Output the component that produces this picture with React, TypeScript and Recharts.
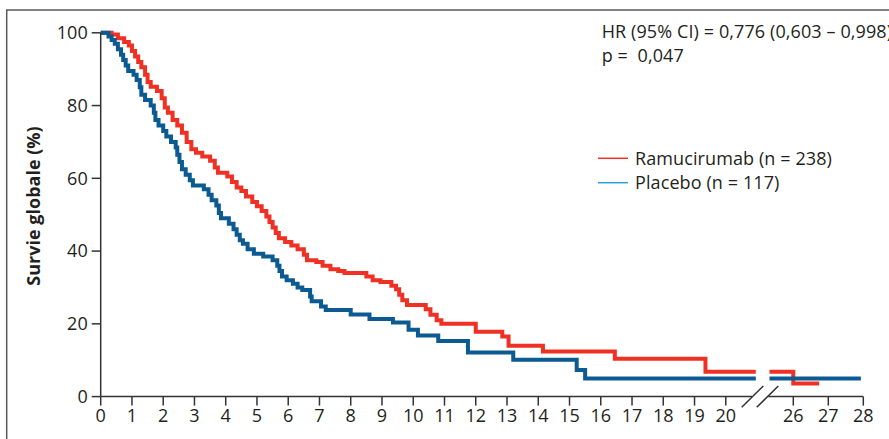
import React from 'react';
import { LineChart, Line, XAxis, YAxis, ReferenceLine } from 'recharts';

// survival steps, [months, %] : value holds from that month onward
const ramucirumabBefore: [number, number][] = [
  [0, 100], [0.35, 99.5], [0.55, 98.5], [0.75, 97.5], [0.9, 96.5], [1.0, 95],
  [1.1, 93.5], [1.2, 92], [1.3, 90.5], [1.42, 88.5], [1.5, 86.5], [1.6, 85.2],
  [1.8, 84], [1.95, 82], [2.05, 79.5], [2.15, 78], [2.3, 76], [2.45, 74.5],
  [2.6, 72.5], [2.75, 70], [2.9, 68], [3.05, 67], [3.25, 66], [3.5, 64.8],
  [3.65, 63], [3.75, 61.5], [4.05, 60.5], [4.2, 59], [4.35, 57.5], [4.5, 56.5],
  [4.65, 55], [4.85, 53.5], [5.0, 52.3], [5.15, 51], [5.3, 49.5], [5.4, 48],
  [5.5, 46.5], [5.6, 45], [5.7, 43.5], [5.9, 42.5], [6.1, 41.5], [6.3, 40.5],
  [6.5, 39], [6.6, 37.5], [6.9, 37], [7.1, 36], [7.35, 35], [7.6, 34.5],
  [7.8, 34], [8.5, 33], [8.7, 32], [8.95, 31.5], [9.3, 30.5], [9.45, 29.5],
  [9.55, 28], [9.65, 26.5], [9.8, 25.2], [10.4, 24], [10.55, 22.5], [10.75, 21],
  [10.9, 20], [12.0, 17.8], [12.85, 16.5], [13.05, 14], [14.15, 12.4],
  [16.45, 10.4], [19.35, 6.8], [20.96, 6.8],
];
const ramucirumabAfter: [number, number][] = [
  [25.32, 6.8], [26.0, 3.6], [26.74, 3.6],
];

const placeboBefore: [number, number][] = [
  [0, 100], [0.25, 99], [0.35, 98], [0.45, 97], [0.55, 95.5], [0.65, 94],
  [0.72, 92.5], [0.8, 91], [0.88, 89.5], [1.05, 88.5], [1.15, 87], [1.25, 85],
  [1.3, 83], [1.42, 81.5], [1.6, 80], [1.7, 78], [1.75, 76], [1.85, 74.5],
  [2.0, 73], [2.1, 71.5], [2.25, 70], [2.4, 68.5], [2.45, 66.5], [2.52, 64.5],
  [2.6, 62.5], [2.72, 61], [2.85, 59.5], [2.95, 58], [3.3, 57], [3.45, 55.5],
  [3.55, 54], [3.7, 52.5], [3.78, 50.5], [3.85, 49], [4.1, 47.5], [4.25, 46],
  [4.35, 44.5], [4.45, 43], [4.55, 42], [4.7, 40.5], [4.9, 39.3], [5.2, 38.5],
  [5.5, 37.5], [5.65, 36], [5.72, 34.5], [5.8, 33], [5.95, 32], [6.15, 31],
  [6.3, 30], [6.45, 29.3], [6.7, 27.5], [6.75, 26.2], [7.05, 24.8], [7.2, 23.8],
  [8.0, 22.6], [8.6, 21.3], [9.35, 20.4], [9.85, 18.4], [10.15, 16.8],
  [10.8, 15.3], [11.75, 12.1], [13.2, 10.1], [15.23, 7.3], [15.5, 5.0],
  [20.96, 5.0],
];
const placeboAfter: [number, number][] = [
  [25.32, 5.0], [27.93, 5.0],
];

const xTicks = [0, 1, 2, 3, 4, 5, 6, 7, 8, 9, 10, 11, 12, 13, 14, 15, 16, 17, 18, 19, 20, 26, 27, 28];
const yTicks = [0, 20, 40, 60, 80, 100];

const legendItems = [
  { label: 'Ramucirumab (n = 238)', color: '#ee3124' },
  { label: 'Placebo (n = 117)', color: '#2b9fd9' },
];

const RED = '#ee3124';
const BLUE = '#0b5a91';
const INK = '#231f20';

// broken axis: months up to 21 are drawn as is, from 26 on they are squeezed in after the gap
const BREAK_AT = 21;
const RESUME_AT = 26;
const RESUME_POS = 22.16;
const RESUME_SCALE = 1.12;

function toAxis(t: number): number {
  return t <= BREAK_AT ? t : RESUME_POS + (t - RESUME_AT) * RESUME_SCALE;
}

function toRows(steps: [number, number][]) {
  return steps.map(([t, v]) => ({ x: toAxis(t), v }));
}

function tickLabel(d: number): string {
  const t = xTicks.find((m) => Math.abs(toAxis(m) - d) < 1e-6);
  return t === undefined ? '' : String(t);
}

function YLabel() {
  return (
    <text
      x={33}
      y={206}
      transform="rotate(-90 33 206)"
      textAnchor="middle"
      dominantBaseline="central"
      fontSize={18}
      fontWeight={700}
      fill={INK}
    >
      Survie globale (%)
    </text>
  );
}

export default function App() {
  const xMax = toAxis(28);
  const axisStyle = { stroke: '#333', strokeWidth: 1.5 };
  const textStyle = { fontSize: 18, fill: INK, letterSpacing: 0.1 };
  return (
    <div
      style={{
        position: 'absolute',
        left: 0,
        top: 0,
        width: 889,
        height: 439,
        background: '#fff',
        fontFamily: '"Open Sans", "Noto Sans", sans-serif',
        overflow: 'hidden',
      }}
    >
      <LineChart
        width={889}
        height={439}
        margin={{ top: 32.8, right: 25.7, bottom: 12.4, left: 0 }}
      >
        <XAxis
          dataKey="x"
          type="number"
          domain={[0, xMax]}
          ticks={xTicks.map(toAxis)}
          tickFormatter={tickLabel}
          interval={0}
          axisLine={false}
          tickLine={axisStyle}
          tickSize={9}
          tickMargin={4}
          height={30}
          tick={{ fontSize: 18, fill: INK }}
        />
        <YAxis
          type="number"
          domain={[0, 100]}
          ticks={yTicks}
          width={100.7}
          axisLine={axisStyle}
          tickLine={axisStyle}
          tickSize={9}
          tickMargin={4}
          tick={{ fontSize: 18, fill: INK }}
          label={<YLabel />}
        />
        <ReferenceLine segment={[{ x: 0, y: 0 }, { x: 20.84, y: 0 }]} ifOverflow="visible" {...axisStyle} />
        <ReferenceLine segment={[{ x: 21.36, y: 0 }, { x: xMax, y: 0 }]} ifOverflow="visible" {...axisStyle} />
        <ReferenceLine segment={[{ x: 20.51, y: -2.95 }, { x: 21.2, y: 2.92 }]} ifOverflow="visible" {...axisStyle} />
        <ReferenceLine segment={[{ x: 20.99, y: -2.95 }, { x: 21.68, y: 2.92 }]} ifOverflow="visible" {...axisStyle} />
        <Line data={toRows(ramucirumabBefore)} dataKey="v" type="stepAfter" stroke={RED} strokeWidth={4} dot={false} isAnimationActive={false} />
        <Line data={toRows(ramucirumabAfter)} dataKey="v" type="stepAfter" stroke={RED} strokeWidth={4} dot={false} isAnimationActive={false} />
        <Line data={toRows(placeboBefore)} dataKey="v" type="stepAfter" stroke={BLUE} strokeWidth={4} dot={false} isAnimationActive={false} />
        <Line data={toRows(placeboAfter)} dataKey="v" type="stepAfter" stroke={BLUE} strokeWidth={4} dot={false} isAnimationActive={false} />
      </LineChart>
      <svg
        width={889}
        height={439}
        style={{ position: 'absolute', left: 0, top: 0, pointerEvents: 'none' }}
      >
        <polyline points="6.7,439 6.7,10 889,10" fill="none" stroke="#58595b" strokeWidth={1.5} />
        <text x={601.7} y={38} {...textStyle}>
          HR (95% CI) = 0,776 (0,603 – 0,998)
        </text>
        <text x={601.7} y={62} {...textStyle} xmlSpace="preserve">
          p =  0,047
        </text>
        {legendItems.map((item, i) => (
          <g key={item.label}>
            <line x1={598} x2={628} y1={158.3 + i * 24.4} y2={158.3 + i * 24.4} stroke={item.color} strokeWidth={1.5} />
            <text x={635} y={164.8 + i * 24.4} {...textStyle}>
              {item.label}
            </text>
          </g>
        ))}
      </svg>
    </div>
  );
}
